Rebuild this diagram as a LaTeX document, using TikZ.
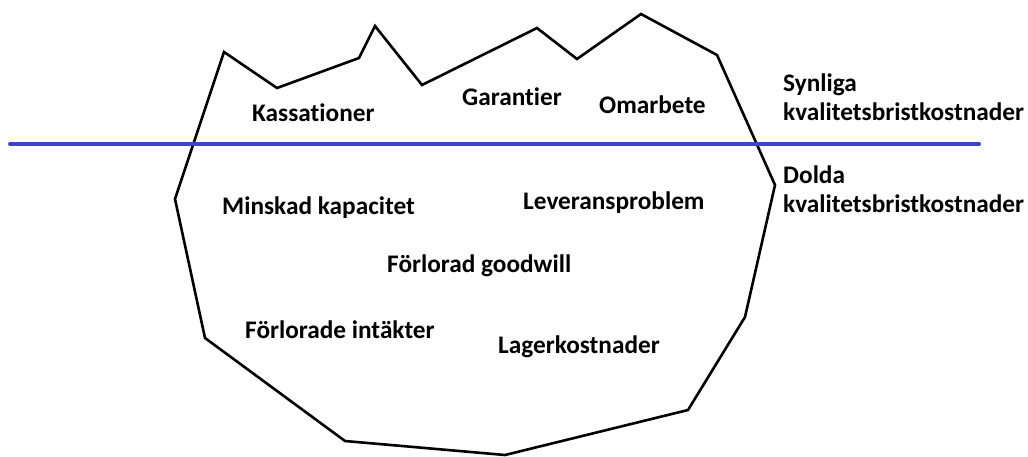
\documentclass[tikz,border=0pt]{standalone}
\usepackage{fontspec}
\setmainfont{Carlito}[Ligatures=NoCommon]
\usetikzlibrary{positioning}
\definecolor{waterblue}{HTML}{3F44C8}

\begin{document}
\begin{tikzpicture}[
  x=1pt, y=-1pt,
  cost/.style={anchor=base west, inner sep=0pt, font=\fontsize{25.3}{28.5}\selectfont\bfseries},
  side/.style={cost, align=left},
  ice/.style={draw=black, line width=2.6pt, line join=miter},
  water/.style={draw=waterblue, line width=4pt, line cap=round}
]
\useasboundingbox (0,0) rectangle (1028,456);

% iceberg
\draw[ice] (224,52) -- (277,88) -- (359,58) -- (375,26) -- (422,85) -- (537,28)
  -- (577,59) -- (641,14) -- (717,55) -- (775,185) -- (745,317) -- (688,410)
  -- (505,455) -- (345,441) -- (205,338) -- (175,199) -- cycle;

% waterline
\coordinate (wl) at (10,144);
\coordinate (wr) at (979,144);
\draw[water] (wl) -- (wr);

% above the surface
\node[cost] (kass) at (252,121) {Kassationer};
\node[cost] (gar) at (462,105) {Garantier};
\node[cost] (omar) at (599,113) {Omarbete};
\node[side] (synl) at (783,120) {Synliga\\kvalitetsbristkostnader};

% below the surface
\node[side] (dold) at (783,212) {Dolda\\kvalitetsbristkostnader};
\node[cost] (minsk) at (222,214) {Minskad kapacitet};
\node[cost] (lev) at (523,209) {Leveransproblem};
\node[cost] (good) at (387,272) {Förlorad goodwill};
\node[cost] (intak) at (245,338) {Förlorade intäkter};
\node[cost] (lager) at (498,353) {Lagerkostnader};
\end{tikzpicture}
\end{document}
